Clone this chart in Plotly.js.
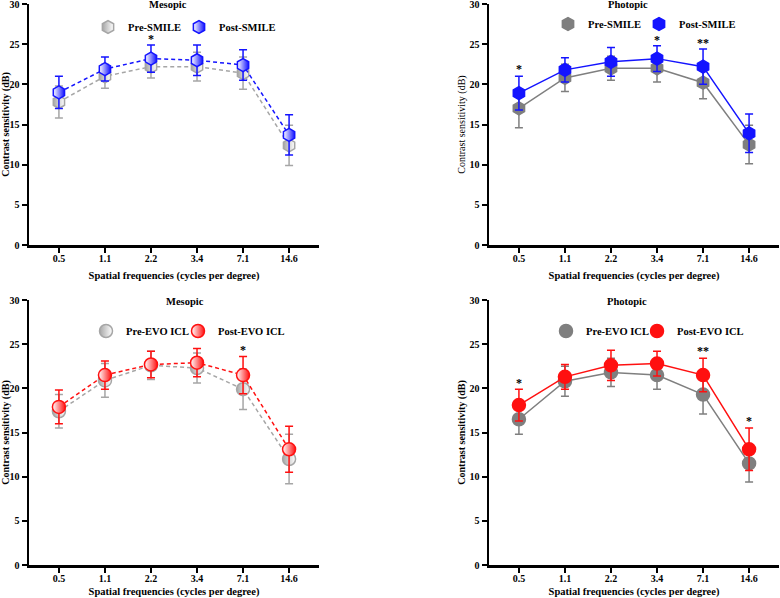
<!DOCTYPE html>
<html>
<head>
<meta charset="utf-8">
<script src="https://cdn.plot.ly/plotly-3.0.1.min.js"></script>
<style>
  body { margin: 0; padding: 0; background: #fff; }
  #chart { width: 780px; height: 598px; }
</style>
</head>
<body>
<div id="chart"></div>
<script>
var freq = ["0.5", "1.1", "2.2", "3.4", "7.1", "14.6"];

// SMILE, mesopic
var preSmileMes = [17.8, 21.0, 22.2, 22.2, 21.4, 12.4];
var preSmileMesSd = [2.0, 1.5, 1.4, 1.8, 2.0, 2.5];
var postSmileMes = [19.0, 21.9, 23.2, 23.0, 22.4, 13.7];
var postSmileMesSd = [2.0, 1.5, 1.7, 1.9, 1.9, 2.5];

// SMILE, photopic
var preSmilePho = [17.0, 20.8, 22.0, 22.0, 20.2, 12.5];
var preSmilePhoSd = [2.4, 1.7, 1.5, 1.7, 2.0, 2.4];
var postSmilePho = [18.9, 21.8, 22.8, 23.2, 22.2, 13.9];
var postSmilePhoSd = [2.1, 1.5, 1.8, 1.6, 2.2, 2.4];

// EVO ICL, mesopic
var preIclMes = [17.4, 20.9, 22.6, 22.3, 19.9, 12.0];
var preIclMesSd = [1.9, 1.9, 1.6, 1.7, 2.3, 2.8];
var postIclMes = [17.9, 21.5, 22.7, 22.9, 21.5, 13.1];
var postIclMesSd = [1.9, 1.6, 1.5, 1.6, 2.1, 2.6];

// EVO ICL, photopic
var preIclPho = [16.5, 20.8, 21.8, 21.5, 19.3, 11.5];
var preIclPhoSd = [1.7, 1.7, 1.6, 1.6, 2.2, 2.1];
var postIclPho = [18.1, 21.3, 22.6, 22.8, 21.5, 13.1];
var postIclPhoSd = [1.8, 1.4, 1.7, 1.4, 1.9, 2.4];

// significance marks
var sigPanel = [1, 2, 2, 2, 3, 4, 4, 4];
var sigCat = ["2.2", "0.5", "3.4", "7.1", "7.1", "0.5", "7.1", "14.6"];
var sigY = [25.6, 21.9, 25.5, 25.2, 24.3, 20.6, 24.2, 16.3];
var sigText = ["*", "*", "*", "**", "*", "*", "**", "*"];

var SERIF = "Liberation Serif, Times New Roman, serif";
var lightGray = "#a6a6a6";
var darkGray = "#7f7f7f";
var blue = "#1414ff";
var red = "#ff1010";

var data = [];
var legendCount = 0;
// each series = a line/error-bar trace plus a marker trace that owns the legend entry
function series(y, sd, name, color, symbol, dash, half, n) {
  var xa = n === 1 ? "x" : "x" + n;
  var ya = n === 1 ? "y" : "y" + n;
  var marker = {color: color, size: 13, symbol: symbol, line: {color: color, width: 1.5}};
  if (half) {
    // half-filled look: gradient from the colour to white
    marker.gradient = {type: "horizontal", color: half === "left" ? "#ffffff" : color};
    marker.color = half === "left" ? color : "#ffffff";
  }
  legendCount++;
  data.push({
    x: freq, y: y, name: name, showlegend: false,
    type: "scatter", mode: "lines", xaxis: xa, yaxis: ya,
    line: {color: color, width: 1.5, dash: dash},
    error_y: {type: "data", array: sd, visible: true, color: color, thickness: 1.5, width: 4}
  });
  data.push({
    x: freq, y: y, name: name,
    type: "scatter", mode: "markers", xaxis: xa, yaxis: ya,
    legend: legendCount === 1 ? "legend" : "legend" + legendCount,
    marker: marker
  });
}

var DASH = "4px,3px";
series(preSmileMes, preSmileMesSd, "Pre-SMILE", lightGray, "hexagon", DASH, "left", 1);
series(postSmileMes, postSmileMesSd, "Post-SMILE", blue, "hexagon", DASH, "right", 1);
series(preSmilePho, preSmilePhoSd, "Pre-SMILE", darkGray, "hexagon", "solid", null, 2);
series(postSmilePho, postSmilePhoSd, "Post-SMILE", blue, "hexagon", "solid", null, 2);
series(preIclMes, preIclMesSd, "Pre-EVO ICL", lightGray, "circle", DASH, "left", 3);
series(postIclMes, postIclMesSd, "Post-EVO ICL", red, "circle", DASH, "right", 3);
series(preIclPho, preIclPhoSd, "Pre-EVO ICL", darkGray, "circle", "solid", null, 4);
series(postIclPho, postIclPhoSd, "Post-EVO ICL", red, "circle", "solid", null, 4);

var tickFont = {family: SERIF, size: 10, color: "#000", weight: "bold"};

function xax(dom, anchor) {
  return {
    domain: dom, anchor: anchor, type: "category",
    range: [-0.65, 5.65], showgrid: false, zeroline: false,
    showline: true, linecolor: "#000", linewidth: 2.5,
    ticks: "outside", ticklen: 5, tickwidth: 2, tickcolor: "#000",
    ticklabelstandoff: -3,
    tickfont: tickFont, automargin: false,
    title: {text: "Spatial frequencies (cycles per degree)", standoff: 9,
            font: {family: SERIF, size: 10.5, color: "#000", weight: "bold"}}
  };
}
function yax(dom, anchor, bold) {
  return {
    domain: dom, anchor: anchor, range: [0, 30],
    tickvals: [0, 5, 10, 15, 20, 25, 30],
    showgrid: false, zeroline: false,
    showline: true, linecolor: "#000", linewidth: 2.5,
    ticks: "outside", ticklen: 5, tickwidth: 2, tickcolor: "#000",
    ticklabeloverflow: "allow",
    tickfont: tickFont, automargin: false,
    title: {text: "Contrast sensitivity (dB)", standoff: 2,
            font: {family: SERIF, size: 10, color: "#000", weight: bold ? "bold" : "normal"}}
  };
}
// one legend box per entry; symbol sits ~20px right of the box edge
function leg(markerX, markerY) {
  return {
    x: (markerX - 19) / 780, y: 1 - markerY / 598,
    xanchor: "left", yanchor: "middle", orientation: "h",
    bgcolor: "rgba(0,0,0,0)", itemsizing: "trace",
    font: {family: SERIF, size: 10.5, color: "#000", weight: "bold"}
  };
}

var topDom = [1 - 245 / 598, 1 - 4 / 598];
var botDom = [1 - 565 / 598, 1 - 300 / 598];
var leftDom = [29 / 780, 319 / 780];
var rightDom = [489 / 780, 779 / 780];

var annotations = [
  {text: "Mesopic", x: 168 / 780, y: 1 - 5 / 598},
  {text: "Photopic", x: 628 / 780, y: 1 - 5 / 598},
  {text: "Mesopic", x: 185 / 780, y: 1 - 301 / 598},
  {text: "Photopic", x: 627 / 780, y: 1 - 301 / 598}
].map(function (a) {
  return {text: a.text, x: a.x, y: a.y, xref: "paper", yref: "paper",
          showarrow: false, xanchor: "center", yanchor: "middle",
          font: {family: SERIF, size: 10.5, color: "#000", weight: "bold"}};
});

for (var i = 0; i < sigText.length; i++) {
  var n = sigPanel[i];
  annotations.push({
    text: sigText[i], x: freq.indexOf(sigCat[i]), y: sigY[i],
    xref: n === 1 ? "x" : "x" + n, yref: n === 1 ? "y" : "y" + n,
    showarrow: false, yanchor: "middle",
    font: {family: SERIF, size: 12, color: "#000000", weight: "bold"}
  });
}

var layout = {
  width: 780, height: 598,
  margin: {l: 0, r: 0, t: 0, b: 0},
  paper_bgcolor: "#fff", plot_bgcolor: "#fff",
  showlegend: true,
  xaxis: xax(leftDom, "y"), yaxis: yax(topDom, "x", true),
  xaxis2: xax(rightDom, "y2"), yaxis2: yax(topDom, "x2", false),
  xaxis3: xax(leftDom, "y3"), yaxis3: yax(botDom, "x3", true),
  xaxis4: xax(rightDom, "y4"), yaxis4: yax(botDom, "x4", true),
  legend: leg(107, 27),
  legend2: leg(198, 27),
  legend3: leg(567, 24),
  legend4: leg(658, 24),
  legend5: leg(105, 331),
  legend6: leg(197, 331),
  legend7: leg(565, 331),
  legend8: leg(656, 331),
  annotations: annotations
};

Plotly.newPlot("chart", data, layout, {displayModeBar: false, staticPlot: true});
</script>
</body>
</html>
